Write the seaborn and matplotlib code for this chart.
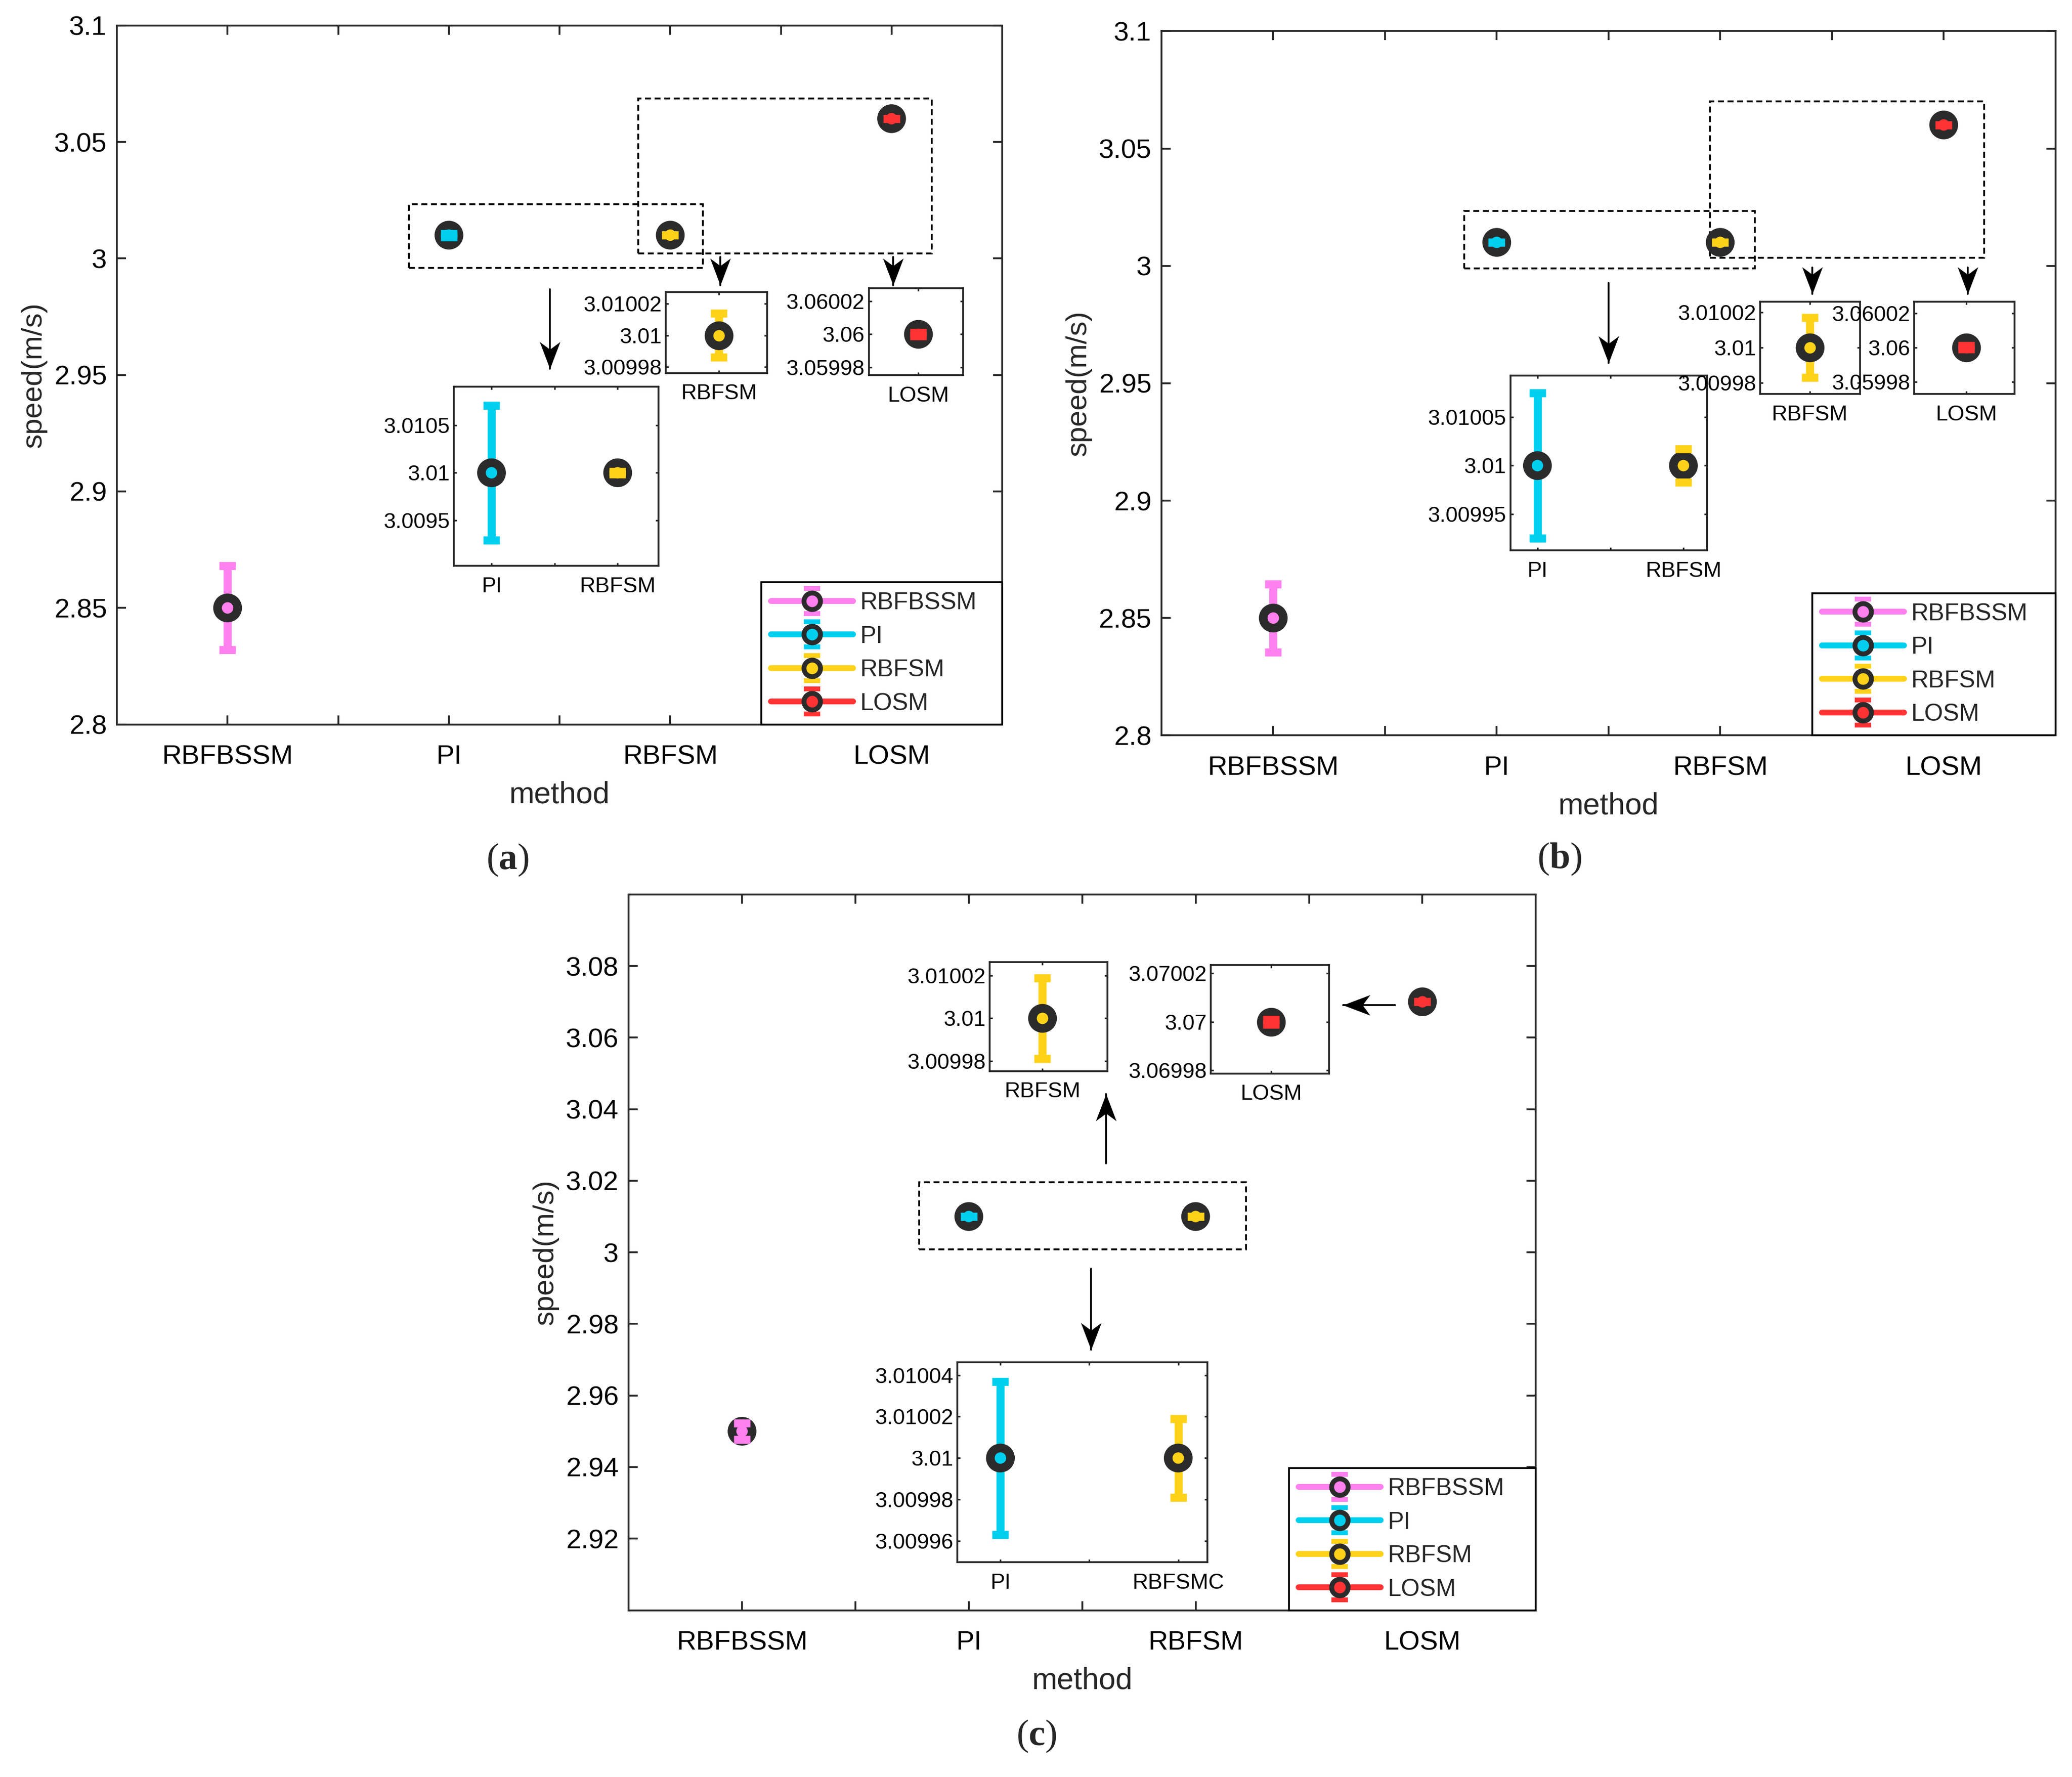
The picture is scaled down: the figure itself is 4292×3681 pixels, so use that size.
import numpy as np
import pandas as pd
import matplotlib
matplotlib.use('Agg')
import matplotlib.pyplot as plt
from matplotlib.lines import Line2D
from matplotlib.path import Path
from matplotlib.patches import Rectangle
from matplotlib.legend_handler import HandlerTuple
import seaborn as sns

# data
methods = ['RBFBSSM', 'PI', 'RBFSM', 'LOSM']
colors = ['#ff80ee', '#00cfef', '#ffd21a', '#ff3333']

speed_a = [2.85, 3.01, 3.01, 3.06]
err_a = [0.018, 0.00071, 0.000014, 0.000001]
speed_b = [2.85, 3.01, 3.01, 3.06]
err_b = [0.0145, 0.000075, 0.000017, 0.000001]
speed_c = [2.95, 3.01, 3.01, 3.07]
err_c = [0.0023, 0.000037, 0.000019, 0.000001]

yticks_ab = [2.8, 2.85, 2.9, 2.95, 3.0, 3.05, 3.1]
ylabels_ab = ['2.8', '2.85', '2.9', '2.95', '3', '3.05', '3.1']
yticks_c = [2.92, 2.94, 2.96, 2.98, 3.0, 3.02, 3.04, 3.06, 3.08]
ylabels_c = ['2.92', '2.94', '2.96', '2.98', '3', '3.02', '3.04', '3.06', '3.08']

pair_ticks_a = [3.0095, 3.01, 3.0105]
pair_labels_a = ['3.0095', '3.01', '3.0105']
pair_ticks_b = [3.00995, 3.01, 3.01005]
pair_labels_b = ['3.00995', '3.01', '3.01005']
pair_ticks_c = [3.00996, 3.00998, 3.01, 3.01002, 3.01004]
pair_labels_c = ['3.00996', '3.00998', '3.01', '3.01002', '3.01004']
rbfsm_ticks = [3.00998, 3.01, 3.01002]
rbfsm_labels = ['3.00998', '3.01', '3.01002']
losm_ticks_ab = [3.05998, 3.06, 3.06002]
losm_labels_ab = ['3.05998', '3.06', '3.06002']
losm_ticks_c = [3.06998, 3.07, 3.07002]
losm_labels_c = ['3.06998', '3.07', '3.07002']

pal = dict(zip(methods, colors))
ring = '#2b2b2b'
axcol = '#262626'

sns.set_style('ticks')
plt.rcParams['font.family'] = ['Liberation Sans', 'DejaVu Sans']
plt.rcParams['mathtext.fontset'] = 'custom'
plt.rcParams['mathtext.rm'] = 'Liberation Serif'
plt.rcParams['mathtext.bf'] = 'Liberation Serif:bold'

fig = plt.figure(figsize=(4292 / 300, 3681 / 300), dpi=300)


def draw_points(ax, df, xs):
    for x, (_, r) in zip(xs, df.iterrows()):
        eb = ax.errorbar(x, r['speed'], yerr=r['err'], fmt='none', ecolor=pal[r['method']],
                         elinewidth=4, capsize=4, capthick=4, zorder=2)
        for cap in eb[1]:
            cap.set_zorder(4)
    d = df.assign(x=xs)
    sns.scatterplot(data=d, x='x', y='speed', hue='method', palette=pal, s=100,
                    edgecolor=ring, linewidth=4.3, legend=False, ax=ax, zorder=3)
    ax.set_xlabel('')
    ax.set_ylabel('')


def frame(ax, lw=0.9):
    for s in ax.spines.values():
        s.set_linewidth(lw)
        s.set_color(axcol)


def head(direction):
    dx, dy = direction
    px, py = -dy, dx
    L, w, n = 1.0, 0.38, 0.72
    verts = [(0, 0), (-L * dx + w * px, -L * dy + w * py), (-n * L * dx, -n * L * dy),
             (-L * dx - w * px, -L * dy - w * py), (0, 0)]
    return Path(verts, [Path.MOVETO, Path.LINETO, Path.LINETO, Path.LINETO, Path.CLOSEPOLY])


def arrow(ax, start, tip, direction):
    ax.plot([start[0], tip[0]], [start[1], tip[1]], color='k', lw=0.9, zorder=5)
    ax.plot([tip[0]], [tip[1]], ls='none', marker=head(direction), ms=26.9,
            color='k', mew=0, zorder=5, clip_on=False)


def dashed(ax, x0, y0, x1, y1):
    ax.add_patch(Rectangle((x0, y0), x1 - x0, y1 - y0, fill=False, ec='k', lw=0.9,
                           ls=(0, (3.3, 2)), zorder=1))


def cap_path():
    verts, codes = [], []
    for (x0, x1, y0, y1) in [(-0.55, 0.55, 0.68, 1.0), (-0.55, 0.55, -1.0, -0.68),
                             (-0.2, 0.2, -0.68, 0.68)]:
        verts += [(x0, y0), (x1, y0), (x1, y1), (x0, y1), (x0, y0)]
        codes += [Path.MOVETO, Path.LINETO, Path.LINETO, Path.LINETO, Path.CLOSEPOLY]
    return Path(verts, codes)


def main_axes(rect, df, ylim, yticks, ylabels):
    ax = fig.add_axes(rect)
    draw_points(ax, df, [1, 2, 3, 4])
    ax.set_xlim(0.5, 4.5)
    ax.set_ylim(*ylim)
    ax.set_xticks([1, 2, 3, 4], methods)
    ax.set_xticks([1.5, 2.5, 3.5], minor=True)
    ax.set_yticks(yticks, ylabels)
    ax.tick_params(which='both', direction='in', top=True, right=True, length=4.5,
                   width=0.9, color=axcol, labelsize=13.5, labelcolor='k')
    ax.tick_params(axis='x', which='both', pad=10)
    ax.tick_params(axis='y', pad=5)
    ax.set_xlabel('method', fontsize=15, labelpad=5.5)
    ax.set_ylabel('speed(m/s)', fontsize=14.5, labelpad=3.5)
    frame(ax)
    cp = cap_path()
    handles = []
    for m in methods:
        c = pal[m]
        handles.append((Line2D([], [], color=c, lw=2.9),
                        Line2D([], [], ls='none', marker=cp, ms=14.9, mfc=c, mec=c, mew=0),
                        Line2D([], [], ls='none', marker='o', ms=8.2, mfc=c, mec=ring, mew=2.4)))
    leg = ax.legend(handles, methods, loc='lower right', bbox_to_anchor=(1 - 0.272, 0, 0.272, 0.3),
                    mode='expand', borderaxespad=0, fontsize=12, handlelength=3.4,
                    handletextpad=0.3, labelspacing=0.47, borderpad=0.4, fancybox=False,
                    framealpha=1, handler_map={tuple: HandlerTuple(ndivide=1)})
    leg.get_frame().set_edgecolor('k')
    leg.get_frame().set_linewidth(0.9)
    return ax


def inset(rect, df, xlim, xlabels, ylim, yticks, ylabels):
    ax = fig.add_axes(rect)
    xs = list(range(1, len(df) + 1))
    draw_points(ax, df, xs)
    ax.set_xlim(*xlim)
    ax.set_ylim(*ylim)
    ax.set_xticks(xs, xlabels)
    if len(xs) > 1:
        ax.set_xticks([1.5], minor=True)
    ax.set_yticks(yticks, ylabels)
    ax.tick_params(which='both', direction='in', top=True, right=True, length=1.5,
                   width=0.8, color=axcol, labelsize=10.8, labelcolor='k')
    ax.tick_params(axis='x', which='both', pad=5.4)
    ax.tick_params(axis='y', pad=2)
    ax.set_facecolor('white')
    frame(ax, 0.9)
    return ax


def panel(speed, err):
    return pd.DataFrame({'method': methods, 'speed': speed, 'err': err})


df_a, df_b, df_c = panel(speed_a, err_a), panel(speed_b, err_b), panel(speed_c, err_c)
pair = ['PI', 'RBFSM']

# (a)
ax = main_axes([0.05643, 0.59234, 0.42729, 0.39332], df_a, (2.8, 3.1), yticks_ab, ylabels_ab)
dashed(ax, 1.819, 2.9960, 3.148, 3.0232)
dashed(ax, 2.855, 3.0022, 4.181, 3.0686)
arrow(ax, (2.455, 2.9868), (2.455, 2.9527), (0, -1))
arrow(ax, (3.225, 3.0008), (3.225, 2.9884), (0, -1))
arrow(ax, (4.007, 3.0008), (4.007, 2.9884), (0, -1))
inset([0.21906, 0.68155, 0.09884, 0.10073], df_a[df_a.method.isin(pair)], (0.702, 2.325),
      pair, (3.009018, 3.010906), pair_ticks_a, pair_labels_a)
inset([0.32141, 0.79008, 0.04879, 0.04553], df_a[df_a.method == 'RBFSM'], (0.477, 1.477),
      ['RBFSM'], (3.0099761, 3.0100274), rbfsm_ticks, rbfsm_labels)
inset([0.41929, 0.78883, 0.04560, 0.04898], df_a[df_a.method == 'LOSM'], (0.476, 1.476),
      ['LOSM'], (3.0599751, 3.0600279), losm_ticks_ab, losm_labels_ab)

# (b)
ax = main_axes([0.56058, 0.58612, 0.43143, 0.39641], df_b, (2.8, 3.1), yticks_ab, ylabels_ab)
dashed(ax, 1.854, 2.9990, 3.155, 3.0233)
dashed(ax, 2.954, 3.0035, 4.181, 3.0700)
arrow(ax, (2.501, 2.9928), (2.501, 2.9586), (0, -1))
arrow(ax, (3.412, 2.9994), (3.412, 2.9881), (0, -1))
arrow(ax, (4.107, 2.9994), (4.107, 2.9881), (0, -1))
inset([0.72894, 0.69027, 0.09501, 0.09826], df_b[df_b.method.isin(pair)], (0.8145, 2.163),
      pair, (3.0099126, 3.0100926), pair_ticks_b, pair_labels_b)
inset([0.84946, 0.77824, 0.04816, 0.05208], df_b[df_b.method == 'RBFSM'], (0.503, 1.503),
      ['RBFSM'], (3.0099735, 3.0100261), rbfsm_ticks, rbfsm_labels)
inset([0.92377, 0.77824, 0.04846, 0.05208], df_b[df_b.method == 'LOSM'], (0.48, 1.48),
      ['LOSM'], (3.0599729, 3.0600268), losm_ticks_ab, losm_labels_ab)

# (c)
ax = main_axes([0.30340, 0.09386, 0.43782, 0.40280], df_c, (2.9, 3.1), yticks_c, ylabels_c)
dashed(ax, 1.780, 3.0008, 3.223, 3.0196)
arrow(ax, (2.605, 3.0249), (2.605, 3.0443), (0, 1))
arrow(ax, (2.539, 2.9955), (2.539, 2.9728), (0, -1))
arrow(ax, (3.879, 3.0691), (3.651, 3.0691), (-1, 0))
inset([0.46197, 0.12089, 0.12067, 0.11244], df_c[df_c.method.isin(pair)], (0.757, 2.163),
      ['PI', 'RBFSMC'], (3.0099497, 3.0100462), pair_ticks_c, pair_labels_c)
inset([0.47770, 0.39725, 0.05673, 0.06129], df_c[df_c.method == 'RBFSM'], (0.554, 1.554),
      ['RBFSM'], (3.0099752, 3.0100264), rbfsm_ticks, rbfsm_labels)
inset([0.58434, 0.39595, 0.05708, 0.06096], df_c[df_c.method == 'LOSM'], (0.491, 1.491),
      ['LOSM'], (3.0699788, 3.0700233), losm_ticks_c, losm_labels_c)

for letter, (x, y) in zip('abc', [(0.2449, 0.5162), (0.7526, 0.5167), (0.5002, 0.0231)]):
    fig.text(x, y, r'$\mathrm{(}\mathbf{%s}\mathrm{)}$' % letter, fontsize=18.5,
             ha='center', va='center')

fig.savefig('out.png', dpi=300, facecolor='white')
